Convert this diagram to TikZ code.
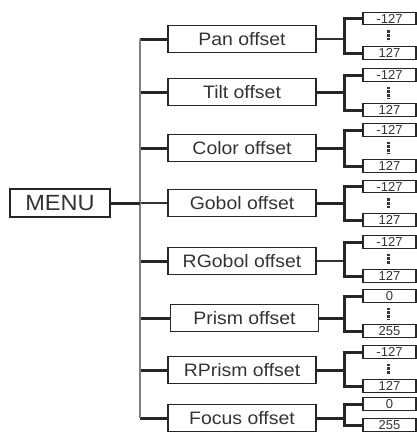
\documentclass[tikz,border=0pt]{standalone}
\usepackage{fontspec}
\setmainfont{Liberation Sans}
\begin{document}
\begin{tikzpicture}[x=1pt,y=-1pt,
  mbox/.style={draw=black!85, line width=1.3pt, minimum width=148pt, minimum height=27pt, inner sep=0pt, text=black!80, font=\fontsize{18}{18}\selectfont},
  sbox/.style={draw=black!85, line width=1.2pt, minimum width=53pt, minimum height=12.5pt, inner sep=0pt, text=black!80, font=\fontsize{13}{13}\selectfont},
  boldln/.style={line width=3pt, draw=black!85},
  thinln/.style={line width=1.3pt, draw=black!80},
  trunkln/.style={line width=1.8pt, draw=black!50},
  dotsln/.style={line width=3pt, draw=black!80, dash pattern=on 2.6pt off 1pt}]
\useasboundingbox (0,0) rectangle (417,434);
\node[draw=black!85, line width=1.3pt, minimum width=100pt, minimum height=28pt, inner sep=0pt, text=black!80, font=\fontsize{22}{22}\selectfont] (menu) at (60,203) {\scalebox{1.07}[1]{MENU}};
\foreach \n/\lab/\y/\ty/\uy/\tl/\ul/\ls/\rs/\dx in {
  p/Pan offset/39/18.5/53/-127/127/boldln/thinln/0,
  t/Tilt offset/92/75/110/-127/127/boldln/boldln/0,
  c/Color offset/148/130/166/-127/127/boldln/boldln/0,
  g/Gobol offset/203/186.5/220/-127/127/thinln/boldln/0,
  r/RGobol offset/261/242/276/-127/127/boldln/thinln/0,
  s/Prism offset/318/296/331/0/255/boldln/boldln/2.5,
  q/RPrism offset/370/352/386/-127/127/boldln/boldln/0,
  f/Focus offset/418/404/425/0/255/boldln/boldln/0}{
  \node[mbox] (b\n) at (242+\dx,\y) {\scalebox{1.08}[1]{\lab}};
  \node[sbox] (t\n) at (389.5,\ty) {\tl};
  \node[sbox] (u\n) at (389.5,\uy) {\ul};
  \coordinate (k\n) at (140,\y);
  \coordinate (f\n) at (345,\y);
  \draw[\ls] (k\n) -- (b\n.west);
  \draw[\rs] (b\n.east) -- (f\n);
  \draw[boldln] (t\n.west) -- ++(-18,0) |- (u\n.west);
}
\foreach \n in {p,t,c,g,r,s,q}{
  \draw[dotsln] ([xshift=-1.5pt,yshift=-5pt]t\n.south) -- ([xshift=-1.5pt,yshift=5pt]u\n.north);
}
\draw[trunkln] (kp) -- (kf);
\draw[boldln] (menu.east) -- (kg);
\end{tikzpicture}
\end{document}
